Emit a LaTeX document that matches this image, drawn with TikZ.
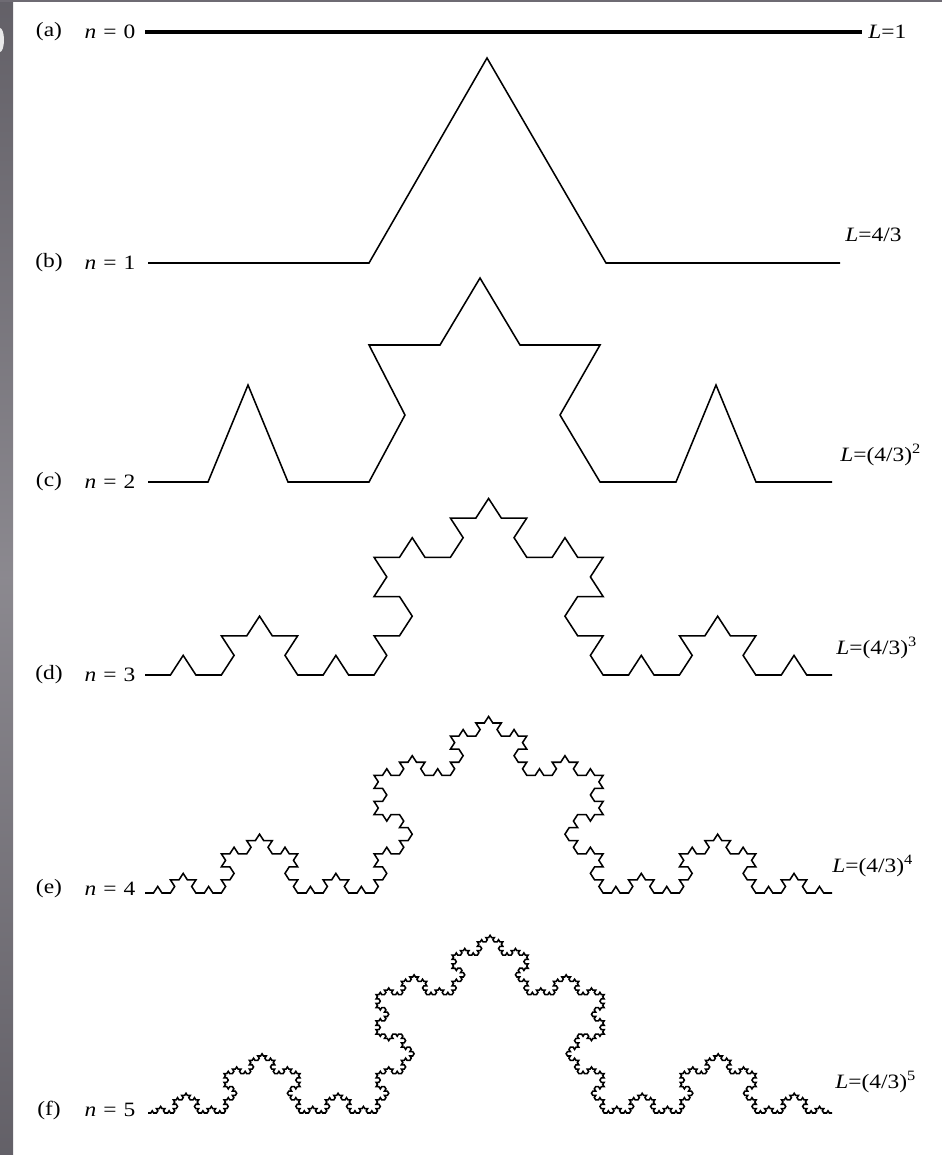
\documentclass[tikz,border=0pt]{standalone}
\usepackage{fontspec}
\setmainfont{Liberation Serif}
\usetikzlibrary{lindenmayersystems}

\pgfdeclarelindenmayersystem{Koch curve}{\rule{F -> F+F--F+F}}

\definecolor{framegray}{HTML}{6E6B73}
\tikzset{
  koch/.style={line width=1.1pt},
  tag/.style={font=\fontsize{14.5}{16}\selectfont, inner sep=0pt, xscale=1.15},
}
\newcommand{\eqsp}{\hspace{0.3em}=\hspace{0.3em}}

\begin{document}
\begin{tikzpicture}[x=0.025cm,y=0.025cm]
\useasboundingbox (0,0) rectangle (942,-1155);
\fill[white] (0,0) rectangle (942,-1155);
\shade[top color=framegray!90!black, bottom color=framegray!90!black, middle color=framegray!80!white] (0,0) rectangle (13,-1155);
\fill[framegray] (0,0) rectangle (942,-2);
\fill[white!85!framegray] (0,-28) arc (90:-90:4 and 12);

% (a) n = 0
\node[tag] (ta) at (49,-32) {(a)};
\node[tag] (na) at (110,-32) {\textit{n}\eqsp0};
\draw[line width=3pt] (145,-32) -- (862,-32);
\node[tag,anchor=west] (La) at (868,-32) {\textit{L}=1};

% (b) n = 1
\node[tag] (tb) at (49,-263) {(b)};
\node[tag] (nb) at (110,-263) {\textit{n}\eqsp1};
\draw[koch] (148,-263) -- (369,-263) -- (487,-58) -- (606,-263) -- (840,-263);
\node[tag,anchor=west] (Lb) at (845,-235) {\textit{L}=4/3};

% (c) n = 2
\node[tag] (tc) at (49,-482) {(c)};
\node[tag] (nc) at (110,-482) {\textit{n}\eqsp2};
\draw[koch] (148,-482) -- (208,-482) -- (248,-385) -- (288,-482) -- (369,-482)
  -- (405,-415) -- (369,-345) -- (440,-345) -- (480,-278) -- (520,-345)
  -- (600,-345) -- (560,-415) -- (600,-482) -- (676,-482) -- (716,-385)
  -- (756,-482) -- (832,-482);
\node[tag,anchor=west] (Lc) at (840,-455) {\textit{L}=(4/3)\textsuperscript{2}};

% (d) n = 3
\node[tag] (td) at (49,-675) {(d)};
\node[tag] (nd) at (110,-675) {\textit{n}\eqsp3};
\begin{scope}[shift={(145,-675)},yscale=0.89]
\draw[koch] (0,0) l-system[l-system={Koch curve, axiom=F, order=3, step=0.63611cm, angle=60}];
\end{scope}
\node[tag,anchor=west] (Ld) at (836,-648) {\textit{L}=(4/3)\textsuperscript{3}};

% (e) n = 4
\node[tag] (te) at (49,-889) {(e)};
\node[tag] (ne) at (110,-889) {\textit{n}\eqsp4};
\begin{scope}[shift={(145,-893)},yscale=0.89]
\draw[koch] (0,0) l-system[l-system={Koch curve, axiom=F, order=4, step=0.21204cm, angle=60}];
\end{scope}
\node[tag,anchor=west] (Le) at (832,-866) {\textit{L}=(4/3)\textsuperscript{4}};

% (f) n = 5
\node[tag] (tf) at (49,-1110) {(f)};
\node[tag] (nf) at (110,-1110) {\textit{n}\eqsp5};
\begin{scope}[shift={(148,-1113)},yscale=0.9]
\draw[koch] (0,0) l-system[l-system={Koch curve, axiom=F, order=5, step=0.07037cm, angle=60}];
\end{scope}
\node[tag,anchor=west] (Lf) at (835,-1082) {\textit{L}=(4/3)\textsuperscript{5}};
\end{tikzpicture}
\end{document}
